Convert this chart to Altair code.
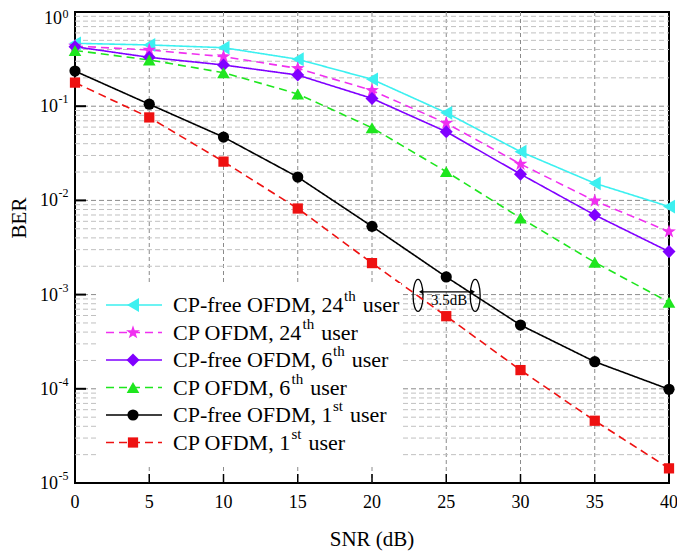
import pandas as pd
import altair as alt

# BER vs SNR
snr = [0, 5, 10, 15, 20, 25, 30, 35, 40]
ber_cpfree_24 = [0.465, 0.447, 0.418, 0.315, 0.193, 0.085, 0.0329, 0.0152, 0.0086]
ber_cp_24 = [0.435, 0.395, 0.336, 0.252, 0.147, 0.066, 0.0243, 0.0099, 0.00466]
ber_cpfree_6 = [0.428, 0.33, 0.274, 0.214, 0.121, 0.0536, 0.019, 0.0070, 0.00286]
ber_cp_6 = [0.39, 0.31, 0.227, 0.135, 0.059, 0.0202, 0.0065, 0.0022, 0.00083]
ber_cpfree_1 = [0.236, 0.105, 0.047, 0.0177, 0.0053, 0.00154, 0.000475, 0.000194, 0.0000988]
ber_cp_1 = [0.178, 0.076, 0.0258, 0.0082, 0.00216, 0.00059, 0.000158, 0.0000458, 0.0000143]

series_names = ['CP-free OFDM, 24th user', 'CP OFDM, 24th user', 'CP-free OFDM, 6th user',
                'CP OFDM, 6th user', 'CP-free OFDM, 1st user', 'CP OFDM, 1st user']
legend_main = ['CP-free OFDM, 24', 'CP OFDM, 24', 'CP-free OFDM, 6',
               'CP OFDM, 6', 'CP-free OFDM, 1', 'CP OFDM, 1']
legend_sup = ['th', 'th', 'th', 'th', 'st', 'st']
legend_tail = 'user'

# axis ticks / grid
x_ticks = [0, 5, 10, 15, 20, 25, 30, 35, 40]
x_grid = [5, 10, 15, 20, 25, 30, 35]
x_title = 'SNR (dB)'
y_title_text = 'BER'
decades = [1, 0.1, 0.01, 0.001, 0.0001, 0.00001]
decade_exp = ['0', '-1', '-2', '-3', '-4', '-5']
minor_mult = [2, 3, 4, 5, 6, 7, 8, 9]

# 3.5 dB gap annotation
gap_ellipse_x = [23.1, 26.95]
gap_ellipse_y = [0.00098, 0.00098]
gap_arrow = [23.3, 26.8]
gap_arrow_y = 0.00107
gap_text = '3.5dB'
gap_text_x = 25.2
gap_text_y = 0.00088

# styles
colors = ['#3CF0F0', '#F030F0', '#8000FF', '#1EE61E', '#000000', '#EE1111']
star = ('M0,-1 L0.235,-0.324 L0.951,-0.309 L0.38,0.124 L0.588,0.809 L0,0.4 '
        'L-0.588,0.809 L-0.38,0.124 L-0.951,-0.309 L-0.235,-0.324 Z')
shapes = ['triangle-left', star, 'diamond', 'triangle-up', 'circle', 'square']
msizes = [190, 210, 170, 160, 125, 105]
dashes = [[1, 0], [8, 5], [1, 0], [8, 5], [1, 0], [8, 5]]
FONT = "'Liberation Serif', 'Times New Roman', Times, 'DejaVu Serif', serif"
W, H = 594, 471
LEG_FS, SUP_FS = 22, 15

TIMES = {' ': 250, ',': 250, '-': 333, '.': 250, 'C': 667, 'D': 722, 'F': 556, 'M': 889,
         'O': 722, 'P': 556, 'e': 444, 'f': 333, 'h': 500, 'r': 333, 's': 389, 't': 278, 'u': 500}


def text_width(s, size):
    return sum(TIMES.get(c, 500) for c in s) * size / 1000


rows = []
for name, vals in zip(series_names, [ber_cpfree_24, ber_cp_24, ber_cpfree_6,
                                     ber_cp_6, ber_cpfree_1, ber_cp_1]):
    for s, b in zip(snr, vals):
        rows.append({'snr': s, 'ber': b, 'series': name})
df = pd.DataFrame(rows)
df['msize'] = df['series'].map(dict(zip(series_names, msizes)))

xs = alt.Scale(domain=[0, 40], nice=False, zero=False)
ys = alt.Scale(type='log', domain=[1e-5, 1], nice=False)
X = alt.X('snr:Q', scale=xs, axis=None)
Y = alt.Y('ber:Q', scale=ys, axis=None)
color = alt.Color('series:N', scale=alt.Scale(domain=series_names, range=colors), legend=None)
shape = alt.Shape('series:N', scale=alt.Scale(domain=series_names, range=shapes), legend=None)
dash = alt.StrokeDash('series:N', scale=alt.Scale(domain=series_names, range=dashes), legend=None)

# grid lines
vgrid = alt.Chart(pd.DataFrame({'snr': x_grid})).mark_rule(
    color='#8a8a8a', strokeDash=[4, 3], strokeWidth=1
).encode(x=X, y=alt.value(0), y2=alt.value(H))

minor = [m * d for d in decades[1:] for m in minor_mult]
hgrid_minor = alt.Chart(pd.DataFrame({'ber': minor})).mark_rule(
    color='#c0c0c0', strokeDash=[5, 3], strokeWidth=1
).encode(y=Y, x=alt.value(0), x2=alt.value(W))

hgrid_major = alt.Chart(pd.DataFrame({'ber': decades[1:-1]})).mark_rule(
    color='#8a8a8a', strokeDash=[5, 3], strokeWidth=1
).encode(y=Y, x=alt.value(0), x2=alt.value(W))

# inner ticks
xticks = alt.Chart(pd.DataFrame({'snr': x_grid})).mark_rule(color='black', strokeWidth=1.5).encode(
    x=X, y=alt.value(H), y2=alt.value(H - 9))
yticks = alt.Chart(pd.DataFrame({'ber': decades[1:-1]})).mark_rule(color='black', strokeWidth=2).encode(
    y=Y, x=alt.value(0), x2=alt.value(11))

# x tick labels and title
x_labels = alt.Chart(pd.DataFrame({'snr': x_ticks})).mark_text(
    font=FONT, fontSize=18, baseline='middle', align='center', color='black'
).encode(x=X, y=alt.value(H + 20), text='snr:Q')
x_name = alt.Chart(pd.DataFrame({'t': [x_title]})).mark_text(
    font=FONT, fontSize=21, baseline='middle', align='center', color='black'
).encode(x=alt.value(W / 2), y=alt.value(H + 57), text='t:N')

# series
lines = alt.Chart(df).mark_line(strokeWidth=1.6).encode(
    x=X, y=Y, color=color, strokeDash=dash, order='snr:Q')
points = alt.Chart(df).mark_point(filled=True, opacity=1, strokeWidth=0).encode(
    x=X, y=Y, color=color, shape=shape, size=alt.Size('msize:Q', scale=None))

# annotation
ell = alt.Chart(pd.DataFrame({'snr': gap_ellipse_x, 'ber': gap_ellipse_y})).mark_point(
    shape='M0,-1 A0.31,1 0 1,1 0,1 A0.31,1 0 1,1 0,-1 Z', size=1024, filled=False,
    stroke='black', strokeWidth=1.3, opacity=1
).encode(x=X, y=Y)
arr_df = pd.DataFrame({'a': [gap_arrow[0]], 'b': [gap_arrow[1]], 'ber': [gap_arrow_y]})
arrow = alt.Chart(arr_df).mark_rule(color='black', strokeWidth=1.2).encode(
    x=alt.X('a:Q', scale=xs, axis=None), x2='b:Q', y=Y)
heads = alt.Chart(pd.DataFrame({'snr': gap_arrow, 'ber': [gap_arrow_y] * 2,
                                'h': ['triangle-left', 'triangle-right']})).mark_point(
    filled=True, color='black', size=22, opacity=1
).encode(x=X, y=Y, shape=alt.Shape('h:N', scale=None, legend=None))
gap_label = alt.Chart(pd.DataFrame({'snr': [gap_text_x], 'ber': [gap_text_y], 't': [gap_text]})).mark_text(
    font=FONT, fontSize=15, color='black', baseline='middle', align='center'
).encode(x=X, y=Y, text='t:N')

# legend (custom, to get superscripts)
leg_top, leg_step, leg_tx = 293, 27.5, 98
leg = pd.DataFrame({'series': series_names, 'main': legend_main, 'sup': legend_sup})
leg['ly'] = [leg_top + i * leg_step for i in range(len(leg))]
leg['sx'] = leg_tx + leg['main'].map(lambda s: text_width(s, LEG_FS)) + 0.5
leg['ux'] = leg['sx'] + leg['sup'].map(lambda s: text_width(s, SUP_FS)) + 7
leg['tail'] = legend_tail
leg['msize'] = leg['series'].map(dict(zip(series_names, msizes)))

legend_bg = alt.Chart(pd.DataFrame({'a': [0]})).mark_rect(color='white', opacity=1).encode(
    x=alt.value(23), x2=alt.value(326), y=alt.value(271), y2=alt.value(455))
legend_lines = alt.Chart(leg).mark_rule(strokeWidth=1.6).encode(
    x=alt.value(31), x2=alt.value(87), y=alt.Y('ly:Q', scale=None), color=color, strokeDash=dash)
legend_marks = alt.Chart(leg).mark_point(filled=True, opacity=1, strokeWidth=0).encode(
    x=alt.value(58), y=alt.Y('ly:Q', scale=None), color=color, shape=shape,
    size=alt.Size('msize:Q', scale=None))
legend_text = alt.Chart(leg).mark_text(font=FONT, fontSize=LEG_FS, align='left', baseline='middle',
                                        color='black').encode(
    x=alt.value(leg_tx), y=alt.Y('ly:Q', scale=None), text='main:N')
legend_sups = alt.Chart(leg).mark_text(font=FONT, fontSize=SUP_FS, align='left', baseline='middle',
                                        color='black', dy=-9).encode(
    x=alt.X('sx:Q', scale=None), y=alt.Y('ly:Q', scale=None), text='sup:N')
legend_tails = alt.Chart(leg).mark_text(font=FONT, fontSize=LEG_FS, align='left', baseline='middle',
                                         color='black').encode(
    x=alt.X('ux:Q', scale=None), y=alt.Y('ly:Q', scale=None), text='tail:N')

# y labels 10^k
ylab = pd.DataFrame({'ber': decades, 'exp': decade_exp})
ylab['ex'] = -7 - ylab['exp'].map(lambda s: text_width(s, 12))
y_ten = alt.Chart(ylab.iloc[1:]).mark_text(font=FONT, fontSize=18, align='right', baseline='middle',
                                           color='black', text='10', dy=1).encode(
    x=alt.X('ex:Q', scale=None), y=Y)
y_exp = alt.Chart(ylab.iloc[1:]).mark_text(font=FONT, fontSize=12, align='left', baseline='middle',
                                           color='black', dy=-7, dx=0.5).encode(
    x=alt.X('ex:Q', scale=None), y=Y, text='exp:N')
# top label sits a little lower so it is not cut by the page edge
y_ten_top = alt.Chart(ylab.iloc[:1]).mark_text(font=FONT, fontSize=18, align='right', baseline='middle',
                                               color='black', text='10', dy=7).encode(
    x=alt.X('ex:Q', scale=None), y=Y)
y_exp_top = alt.Chart(ylab.iloc[:1]).mark_text(font=FONT, fontSize=12, align='left', baseline='middle',
                                               color='black', dy=2, dx=0.5).encode(
    x=alt.X('ex:Q', scale=None), y=Y, text='exp:N')
y_name = alt.Chart(pd.DataFrame({'t': [y_title_text]})).mark_text(
    font=FONT, fontSize=21, angle=270, align='center', baseline='middle', color='black'
).encode(x=alt.value(-55), y=alt.value(206), text='t:N')

chart = alt.layer(
    vgrid, hgrid_minor, hgrid_major, xticks, yticks,
    ell, arrow, heads, gap_label,
    lines, points,
    legend_bg, legend_lines, legend_marks, legend_text, legend_sups, legend_tails,
    x_labels, x_name, y_ten, y_exp, y_ten_top, y_exp_top, y_name
).properties(
    width=W,
    height=H,
    padding={'left': 67, 'top': 4, 'right': 8, 'bottom': 70},
    autosize=alt.AutoSizeParams(type='none')
).configure_view(
    stroke='black',
    strokeWidth=2
)

chart.save('out.html', embed_options={'renderer': 'svg', 'actions': False})
